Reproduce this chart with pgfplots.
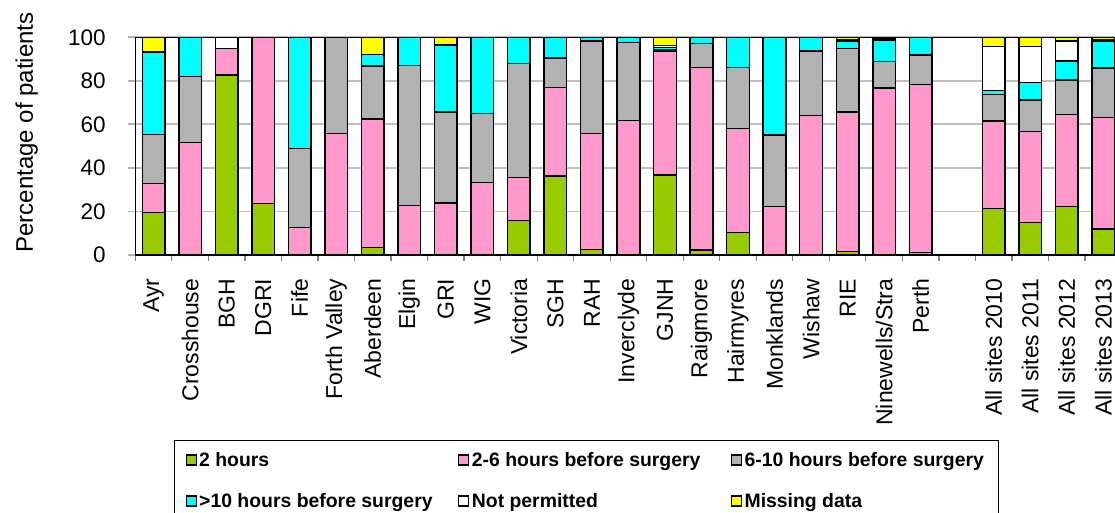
\documentclass[border=0pt]{standalone}
\usepackage{pgfplots}
\pgfplotsset{compat=1.18}
\usepackage{pgfplotstable}
\usepackage{fontspec}
\setmainfont{Liberation Sans}
\definecolor{cgreen}{HTML}{99CC00}
\definecolor{cpink}{HTML}{FF99CC}
\definecolor{cgray}{HTML}{B2B2B2}
\definecolor{ccyan}{HTML}{00FFFF}
\definecolor{cyell}{HTML}{FFFF00}
\definecolor{cgrid}{HTML}{C0C0C0}

\pgfplotstableread{
x  g    p    gr   c    w    m
0  19.6 13.3 22.5 37.9 0    6.7
1  0    51.6 30.3 18.1 0    0
2  82.7 12.1 0    0    5.2  0
3  23.7 76.3 0    0    0    0
4  0    12.6 36.4 51.0 0    0
5  0    55.9 44.1 0    0    0
6  3.4  59.1 24.3 5.4  0    7.8
7  0    22.8 64.3 12.9 0    0
8  0    23.9 41.9 30.7 0    3.5
9  0    33.2 31.7 35.1 0    0
10 15.9 19.8 52.2 12.1 0    0
11 36.4 40.5 13.5 9.6  0    0
12 2.6  53.3 42.4 1.7  0    0
13 0    61.7 36.0 2.3  0    0
14 36.8 56.8 0.9  0.8  0.9  3.8
15 2.3  83.8 11.1 2.8  0    0
16 10.4 47.6 28.2 13.8 0    0
17 0    22.2 32.9 44.9 0    0
18 0    64.0 29.7 6.3  0    0
19 1.5  64.3 29.1 3.1  0.8  1.2
20 0    76.6 12.2 10.0 0.6  0.6
21 1.2  77.2 13.5 8.1  0    0
23 21.4 40.2 12.2 1.7  20.2 4.3
24 15.0 41.7 14.5 8.0  16.5 4.3
25 22.2 42.4 15.8 8.7  9.2  1.7
26 11.9 51.2 22.7 12.2 0.8  1.2
}\datatable

\newcommand{\lgA}[1]{\makebox[129.55pt][l]{\rule{0pt}{7.5pt}\smash{#1}}}
\newcommand{\lgB}[1]{\makebox[121.6pt][l]{\rule{0pt}{7.5pt}\smash{#1}}}

\pgfplotsset{
  lg/.style={legend image code/.code={\draw[##1, line width=0.6pt] (0pt,-2.5pt) rectangle (5pt,2.5pt);}},
  bs/.style={draw=black, line width=0.75pt, lg},
}

\begin{document}
\begin{tikzpicture}
\begin{axis}[
  at={(0pt,0pt)}, anchor=south west,
  scale only axis, width=493.1pt, height=108.85pt,
  xmin=-0.5, xmax=26.5, ymin=0, ymax=100,
  ybar stacked, bar width=0.62,
  clip=false,
  axis line style={line width=0.7pt, black},
  tick align=outside, tick pos=left,
  ytick={0,20,40,60,80,100},
  major tick length=3.65pt, minor tick length=3pt,
  ytick style={line width=0.9pt, color=gray!60},
  ymajorgrids, grid style={line width=0.9pt, color=cgrid},
  xtick={0,...,26},
  xtick style={draw=none},
  minor xtick={-0.5,0.5,...,26.5},
  minor x tick style={line width=0.6pt, color=gray, draw=gray},
  xticklabels={Ayr,Crosshouse,BGH,DGRI,Fife,Forth Valley,Aberdeen,Elgin,GRI,WIG,Victoria,SGH,RAH,Inverclyde,GJNH,Raigmore,Hairmyres,Monklands,Wishaw,RIE,Ninewells/Stra,Perth,,All sites 2010,All sites 2011,All sites 2012,All sites 2013},
  xticklabel style={yshift=-8pt, rotate=90, anchor=east, inner sep=0pt, font=\fontsize{11.5}{13}\selectfont},
  yticklabel style={anchor=east, inner sep=0pt, xshift=-11pt, font=\fontsize{11.25}{13}\selectfont},
  /pgf/number format/assume math mode=true,
  legend columns=3,
  legend cell align=left,
  legend style={at={(0.0392,-0.8498)}, anchor=north west, draw=black, line width=0.6pt,
    inner xsep=5.5pt, inner ysep=5.25pt, row sep=11.5pt,
    nodes={inner sep=0pt},
    /tikz/every odd column/.style={column sep=1.2pt},
    /tikz/every even column/.style={column sep=0pt},
    font=\fontsize{9.7}{11}\selectfont\bfseries},
]
\addplot[fill=cgreen, bs] table[x=x,y=g]{\datatable};
\addplot[fill=cpink, bs] table[x=x,y=p]{\datatable};
\addplot[fill=cgray, bs] table[x=x,y=gr]{\datatable};
\addplot[fill=ccyan, bs] table[x=x,y=c]{\datatable};
\addplot[fill=white, bs] table[x=x,y=w]{\datatable};
\addplot[fill=cyell, bs] table[x=x,y=m]{\datatable};
\legend{\lgA{2 hours},\lgA{2-6 hours before surgery},\lgB{6-10 hours before surgery},\lgA{>10 hours before surgery},\lgA{Not permitted},\lgB{Missing data}}
\end{axis}
\node[rotate=90, anchor=base, font=\fontsize{12}{14}\selectfont] at (-51.2pt,61.25pt) {Percentage of patients};
\pgfresetboundingbox
\path[use as bounding box] (-67.67pt,-129pt) rectangle (489.83pt,127.5pt);
\end{tikzpicture}
\end{document}
